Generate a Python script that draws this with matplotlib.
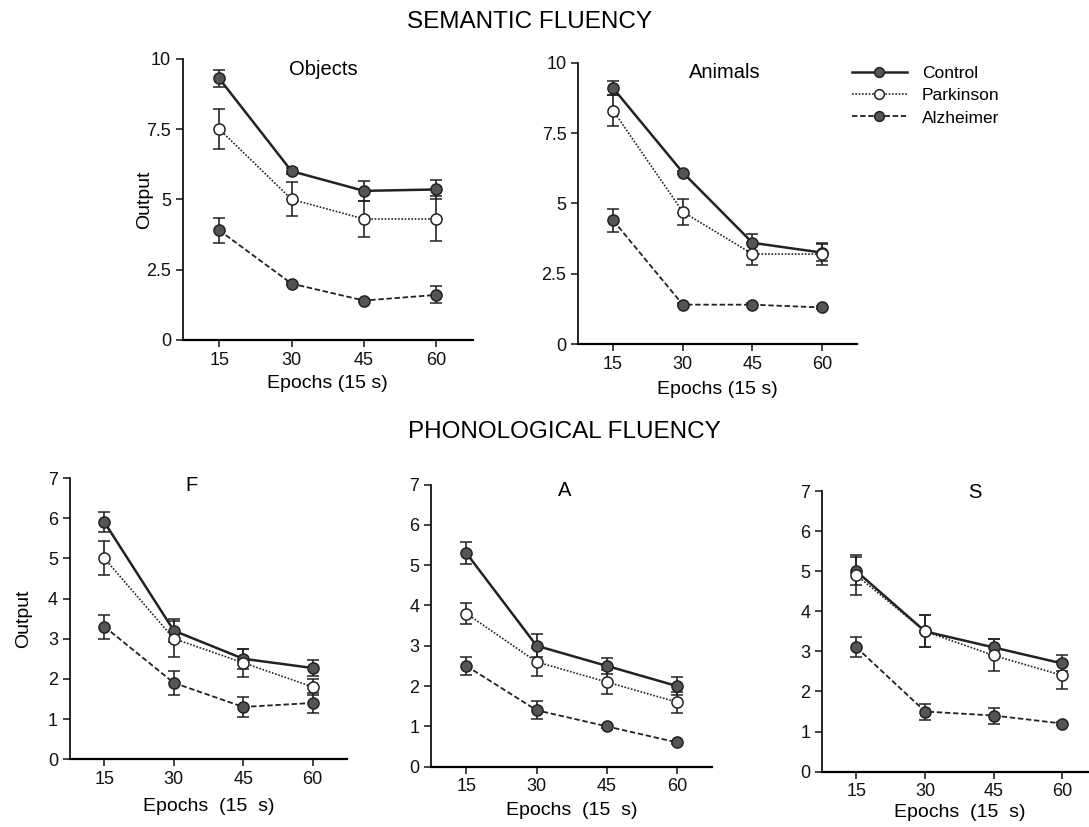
import matplotlib
matplotlib.use("Agg")
import matplotlib.pyplot as plt
import numpy as np

plt.rcParams["font.family"] = ["Liberation Sans", "DejaVu Sans"]

#-------------------------------------------------------------------------------
# Values

epochs = [15, 30, 45, 60]

obj_control = [9.3, 6.0, 5.3, 5.35]
obj_control_err = [0.3, 0.1, 0.35, 0.35]
obj_parkinson = [7.5, 5.0, 4.3, 4.3]
obj_parkinson_err = [0.7, 0.6, 0.65, 0.8]
obj_alzheimer = [3.9, 2.0, 1.4, 1.6]
obj_alzheimer_err = [0.45, 0.05, 0.05, 0.3]

ani_control = [9.1, 6.1, 3.6, 3.25]
ani_control_err = [0.25, 0.05, 0.3, 0.3]
ani_parkinson = [8.3, 4.7, 3.2, 3.2]
ani_parkinson_err = [0.55, 0.45, 0.4, 0.4]
ani_alzheimer = [4.4, 1.4, 1.4, 1.3]
ani_alzheimer_err = [0.4, 0.05, 0.05, 0.05]

f_control = [5.9, 3.2, 2.5, 2.27]
f_control_err = [0.25, 0.28, 0.25, 0.2]
f_parkinson = [5.0, 3.0, 2.4, 1.8]
f_parkinson_err = [0.42, 0.45, 0.35, 0.2]
f_alzheimer = [3.3, 1.9, 1.3, 1.4]
f_alzheimer_err = [0.3, 0.3, 0.25, 0.25]

a_control = [5.3, 3.0, 2.5, 2.0]
a_control_err = [0.27, 0.28, 0.2, 0.22]
a_parkinson = [3.8, 2.6, 2.1, 1.6]
a_parkinson_err = [0.26, 0.35, 0.3, 0.26]
a_alzheimer = [2.5, 1.4, 1.0, 0.6]
a_alzheimer_err = [0.22, 0.22, 0.03, 0.03]

s_control = [5.0, 3.5, 3.1, 2.7]
s_control_err = [0.35, 0.4, 0.2, 0.2]
s_parkinson = [4.9, 3.5, 2.9, 2.4]
s_parkinson_err = [0.5, 0.4, 0.4, 0.35]
s_alzheimer = [3.1, 1.5, 1.4, 1.2]
s_alzheimer_err = [0.25, 0.2, 0.2, 0.03]

group_names = ["Control", "Parkinson", "Alzheimer"]

#-------------------------------------------------------------------------------

FILL = "#555555"
EDGE = "#222222"
styles = {
  "Control":   dict(ls="-", lw=1.8, mfc=FILL),
  "Parkinson": dict(ls=(0, (1, 1)), lw=1.2, mfc="white"),
  "Alzheimer": dict(ls=(0, (3, 1.5)), lw=1.3, mfc=FILL),
}

def draw_panel(ax, series, ylim, yticks, title, title_xy, xlabel, xlabelpad, ylabel_x=None):
  """ Draw the three groups with error bars on one panel.
  """
  for name, (y, yerr) in zip(group_names, series):
    st = styles[name]
    ax.errorbar(epochs, y, yerr=yerr, color=EDGE, ls=st["ls"], lw=st["lw"],
                marker="o", ms=8, mfc=st["mfc"], mec=EDGE, mew=1.1,
                ecolor=EDGE, elinewidth=1.2, capsize=4, capthick=1.5, zorder=3)
  ax.set_xlim(7.5, 67.5)
  ax.set_ylim(*ylim)
  ax.set_xticks(epochs)
  ax.set_yticks(yticks)
  ax.set_yticklabels(["{:g}".format(t) for t in yticks])
  for side in ["top", "right"]:
    ax.spines[side].set_visible(False)
  ax.spines["left"].set_linewidth(1.2)
  ax.spines["bottom"].set_linewidth(1.6)
  ax.tick_params(direction="out", length=5, width=1.1, labelsize=13, colors="#111111")
  ax.set_xlabel(xlabel, fontsize=14, labelpad=xlabelpad)
  if ylabel_x is not None:
    ax.set_ylabel("Output", fontsize=14)
    ax.yaxis.set_label_coords(ylabel_x, 0.5)
  ax.text(title_xy[0], title_xy[1], title, transform=ax.transData, fontsize=14.5,
          ha="center", va="top")

def legend_handles(ax):
  """ Line + marker handles without the error bars.
  """
  handles = []
  for name in group_names:
    st = styles[name]
    handles.append(ax.plot([], [], color=EDGE, ls=st["ls"], lw=st["lw"], marker="o",
                           ms=7, mfc=st["mfc"], mec=EDGE, mew=1.1, label=name)[0])
  return handles

def main():
  fig = plt.figure(figsize=(10.89, 8.27), dpi=100)

  ax_obj = fig.add_axes([0.168, 0.589, 0.266, 0.340])
  ax_ani = fig.add_axes([0.531, 0.584, 0.256, 0.340])
  ax_f = fig.add_axes([0.064, 0.082, 0.255, 0.340])
  ax_a = fig.add_axes([0.396, 0.073, 0.258, 0.341])
  ax_s = fig.add_axes([0.755, 0.067, 0.252, 0.339])

  sem_ticks = [0, 2.5, 5, 7.5, 10]
  ph_ticks = list(range(8))
  sem_x = "Epochs (15 s)"
  ph_x = "Epochs  (15  s)"

  draw_panel(ax_obj, [(obj_control, obj_control_err), (obj_parkinson, obj_parkinson_err),
                      (obj_alzheimer, obj_alzheimer_err)],
             (0, 10), sem_ticks, "Objects", (36.6, 9.95), sem_x, 4.5, ylabel_x=-0.103)
  draw_panel(ax_ani, [(ani_control, ani_control_err), (ani_parkinson, ani_parkinson_err),
                      (ani_alzheimer, ani_alzheimer_err)],
             (0, 10), sem_ticks, "Animals", (39, 10.0), sem_x, 6)
  draw_panel(ax_f, [(f_control, f_control_err), (f_parkinson, f_parkinson_err),
                    (f_alzheimer, f_alzheimer_err)],
             (0, 7), ph_ticks, "F", (33.8, 7.05), ph_x, 7.5, ylabel_x=-0.134)
  draw_panel(ax_a, [(a_control, a_control_err), (a_parkinson, a_parkinson_err),
                    (a_alzheimer, a_alzheimer_err)],
             (0, 7), ph_ticks, "A", (36, 7.1), ph_x, 4.5)
  draw_panel(ax_s, [(s_control, s_control_err), (s_parkinson, s_parkinson_err),
                    (s_alzheimer, s_alzheimer_err)],
             (0, 7), ph_ticks, "S", (40.8, 7.2), ph_x, 2.5)

  handles = legend_handles(ax_ani)
  fig.legend(handles=handles, loc="upper left", bbox_to_anchor=(0.782, 0.92),
             frameon=False, fontsize=12.5, handlelength=3.2, handletextpad=0.85,
             labelspacing=0.4, borderpad=0, borderaxespad=0)

  fig.text(0.486, 0.973, "SEMANTIC FLUENCY", ha="center", va="center", fontsize=17.5)
  fig.text(0.518, 0.478, "PHONOLOGICAL FLUENCY", ha="center", va="center", fontsize=17.5)

  fig.savefig("out.png", dpi=100)
  plt.close(fig)

if __name__ == "__main__":
  main()
